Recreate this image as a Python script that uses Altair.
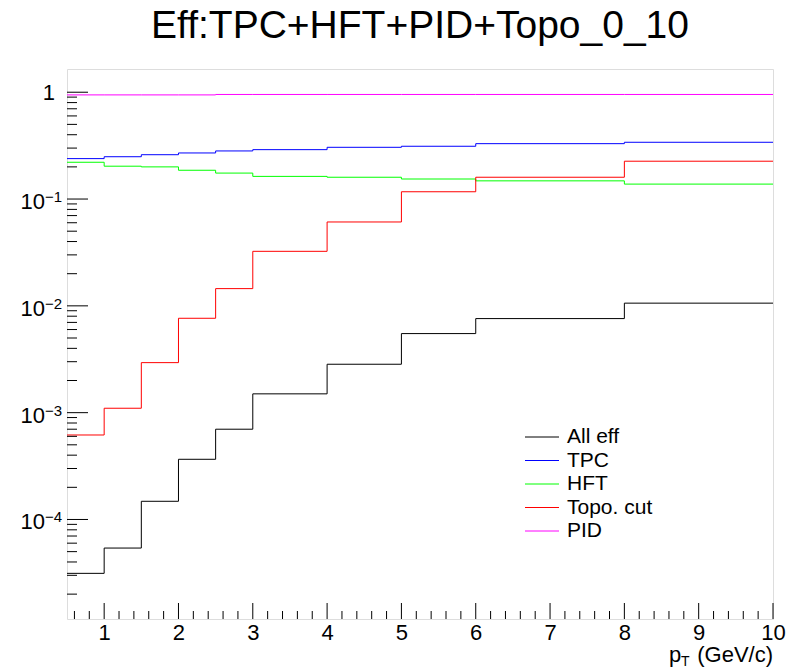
import altair as alt
import pandas as pd

# ---- data ----
edges = [0.5, 1, 1.5, 2, 2.5, 3, 4, 5, 6, 8, 10]
all_eff = [3.13e-5, 5.4e-5, 1.48e-4, 3.66e-4, 7.0e-4, 1.5e-3, 2.84e-3, 5.5e-3, 7.6e-3, 1.06e-2]
tpc = [0.239, 0.249, 0.26, 0.27, 0.282, 0.29, 0.305, 0.312, 0.33, 0.34]
hft = [0.221, 0.203, 0.2, 0.186, 0.175, 0.163, 0.16, 0.154, 0.148, 0.138]
topo = [6.18e-4, 1.1e-3, 2.94e-3, 7.65e-3, 0.0145, 0.0324, 0.061, 0.117, 0.16, 0.226]
pid = [0.944, 0.944, 0.944, 0.944, 0.953, 0.953, 0.953, 0.953, 0.953, 0.953]

series_names = ["All eff", "TPC", "HFT", "Topo. cut", "PID"]
series_colors = ["#000000", "#0000ff", "#00ff00", "#ff0000", "#ff00ff"]
series_values = [all_eff, tpc, hft, topo, pid]

x_major = [1, 2, 3, 4, 5, 6, 7, 8, 9, 10]
y_major = [1e-4, 1e-3, 1e-2, 1e-1, 1]
y_base = ["10", "10", "10", "10", "1"]
y_exp = ["−4", "−3", "−2", "−1", ""]

X_DOMAIN = [0.5, 10]
Y_DOMAIN = [1.17e-5, 1.65]

FONT = "Liberation Sans"
W, H = 706, 550

# ---- tables ----
rows = []
for name, vals in zip(series_names, series_values):
    for i, v in enumerate(vals):
        rows.append({"series": name, "order": i, "x": edges[i], "y": v})
    rows.append({"series": name, "order": len(vals), "x": edges[-1], "y": vals[-1]})
df = pd.DataFrame(rows)

x_minor = [round(0.6 + 0.2 * i, 1) for i in range(48) if round(0.6 + 0.2 * i, 1) not in x_major]
y_minor = []
for dec in [1e-5, 1e-4, 1e-3, 1e-2, 1e-1]:
    for m in range(1, 10):
        v = m * dec
        if Y_DOMAIN[0] <= v <= Y_DOMAIN[1] and not (m == 1 and dec >= 1e-4):
            y_minor.append(v)

xs = alt.Scale(domain=X_DOMAIN, nice=False, zero=False)
ys = alt.Scale(type="log", domain=Y_DOMAIN, nice=False)
color_scale = alt.Scale(domain=series_names, range=series_colors)


def Yv(field):
    return alt.Y(field, scale=ys, axis=None)


lines = alt.Chart(df).mark_line(interpolate="step-after", strokeWidth=1, clip=True).encode(
    x=alt.X("x:Q", scale=xs,
            axis=alt.Axis(values=x_major, format="d", title=None, ticks=False, domain=False,
                          grid=False, labelFont=FONT, labelFontSize=22, labelColor="black",
                          labelPadding=3, labelFlush=False)),
    y=Yv("y:Q"),
    color=alt.Color("series:N", scale=color_scale, legend=None),
    detail="series:N",
    order="order:Q",
)

# legend (drawn as marks, ROOT TLegend style)
leg_df = pd.DataFrame({"series": series_names})
leg_y = alt.Y("series:N", scale=alt.Scale(type="point", domain=series_names, range=[368, 462], padding=0), axis=None)
leg_lines = alt.Chart(leg_df).mark_rule(strokeWidth=1).encode(
    y=leg_y, x=alt.value(458), x2=alt.value(492),
    color=alt.Color("series:N", scale=color_scale, legend=None))
leg_text = alt.Chart(leg_df).mark_text(
    font=FONT, fontSize=21, align="left", baseline="middle", color="black").encode(
    y=leg_y, x=alt.value(500), text="series:N")

ylab = pd.DataFrame({"v": y_major, "base": y_base, "exp": y_exp})
ybase10 = alt.Chart(ylab[ylab["exp"] != ""]).mark_text(
    font=FONT, fontSize=22, align="right", baseline="alphabetic", dy=10, color="black").encode(
    y=Yv("v:Q"), x=alt.value(-22), text="base:N")
yexp = alt.Chart(ylab[ylab["exp"] != ""]).mark_text(
    font=FONT, fontSize=15, align="left", baseline="alphabetic", dy=3, color="black").encode(
    y=Yv("v:Q"), x=alt.value(-22), text="exp:N")
yone = alt.Chart(ylab[ylab["exp"] == ""]).mark_text(
    font=FONT, fontSize=22, align="right", baseline="alphabetic", dy=8, color="black").encode(
    y=Yv("v:Q"), x=alt.value(-12), text="base:N")

xmaj = alt.Chart(pd.DataFrame({"v": x_major})).mark_rule(color="black", strokeWidth=1).encode(
    x=alt.X("v:Q", scale=xs), y=alt.value(H), y2=alt.value(H - 16))
xmin = alt.Chart(pd.DataFrame({"v": x_minor})).mark_rule(color="black", strokeWidth=1).encode(
    x=alt.X("v:Q", scale=xs), y=alt.value(H), y2=alt.value(H - 8))
ymaj = alt.Chart(pd.DataFrame({"v": y_major})).mark_rule(color="black", strokeWidth=1).encode(
    y=Yv("v:Q"), x=alt.value(0), x2=alt.value(21))
ymin = alt.Chart(pd.DataFrame({"v": y_minor})).mark_rule(color="black", strokeWidth=1).encode(
    y=Yv("v:Q"), x=alt.value(0), x2=alt.value(10))

t_p = alt.Chart(pd.DataFrame({"t": ["p"]})).mark_text(
    font=FONT, fontSize=22, align="left", baseline="alphabetic", color="black").encode(
    text="t:N", x=alt.value(602), y=alt.value(593))
t_T = alt.Chart(pd.DataFrame({"t": ["T"]})).mark_text(
    font=FONT, fontSize=14, align="left", baseline="alphabetic", color="black").encode(
    text="t:N", x=alt.value(614), y=alt.value(597))
t_rest = alt.Chart(pd.DataFrame({"t": ["(GeV/c)"]})).mark_text(
    font=FONT, fontSize=22, align="right", baseline="alphabetic", color="black").encode(
    text="t:N", x=alt.value(W), y=alt.value(593))

chart = alt.layer(lines, xmaj, xmin, ymaj, ymin, ybase10, yexp, yone,
                  leg_lines, leg_text, t_p, t_T, t_rest).resolve_scale(
    y="independent"
).properties(
    width=W, height=H,
    title=alt.TitleParams("Eff:TPC+HFT+PID+Topo_0_10", font=FONT, fontSize=39,
                          fontWeight="normal", color="black", anchor="middle", offset=23),
    autosize=alt.AutoSizeParams(type="none"),
    padding={"left": 67, "top": 69, "right": 16, "bottom": 50},
).configure_view(stroke="black", strokeWidth=1).configure(background="white")

chart.save("out.html", embed_options={"renderer": "svg", "actions": False})
